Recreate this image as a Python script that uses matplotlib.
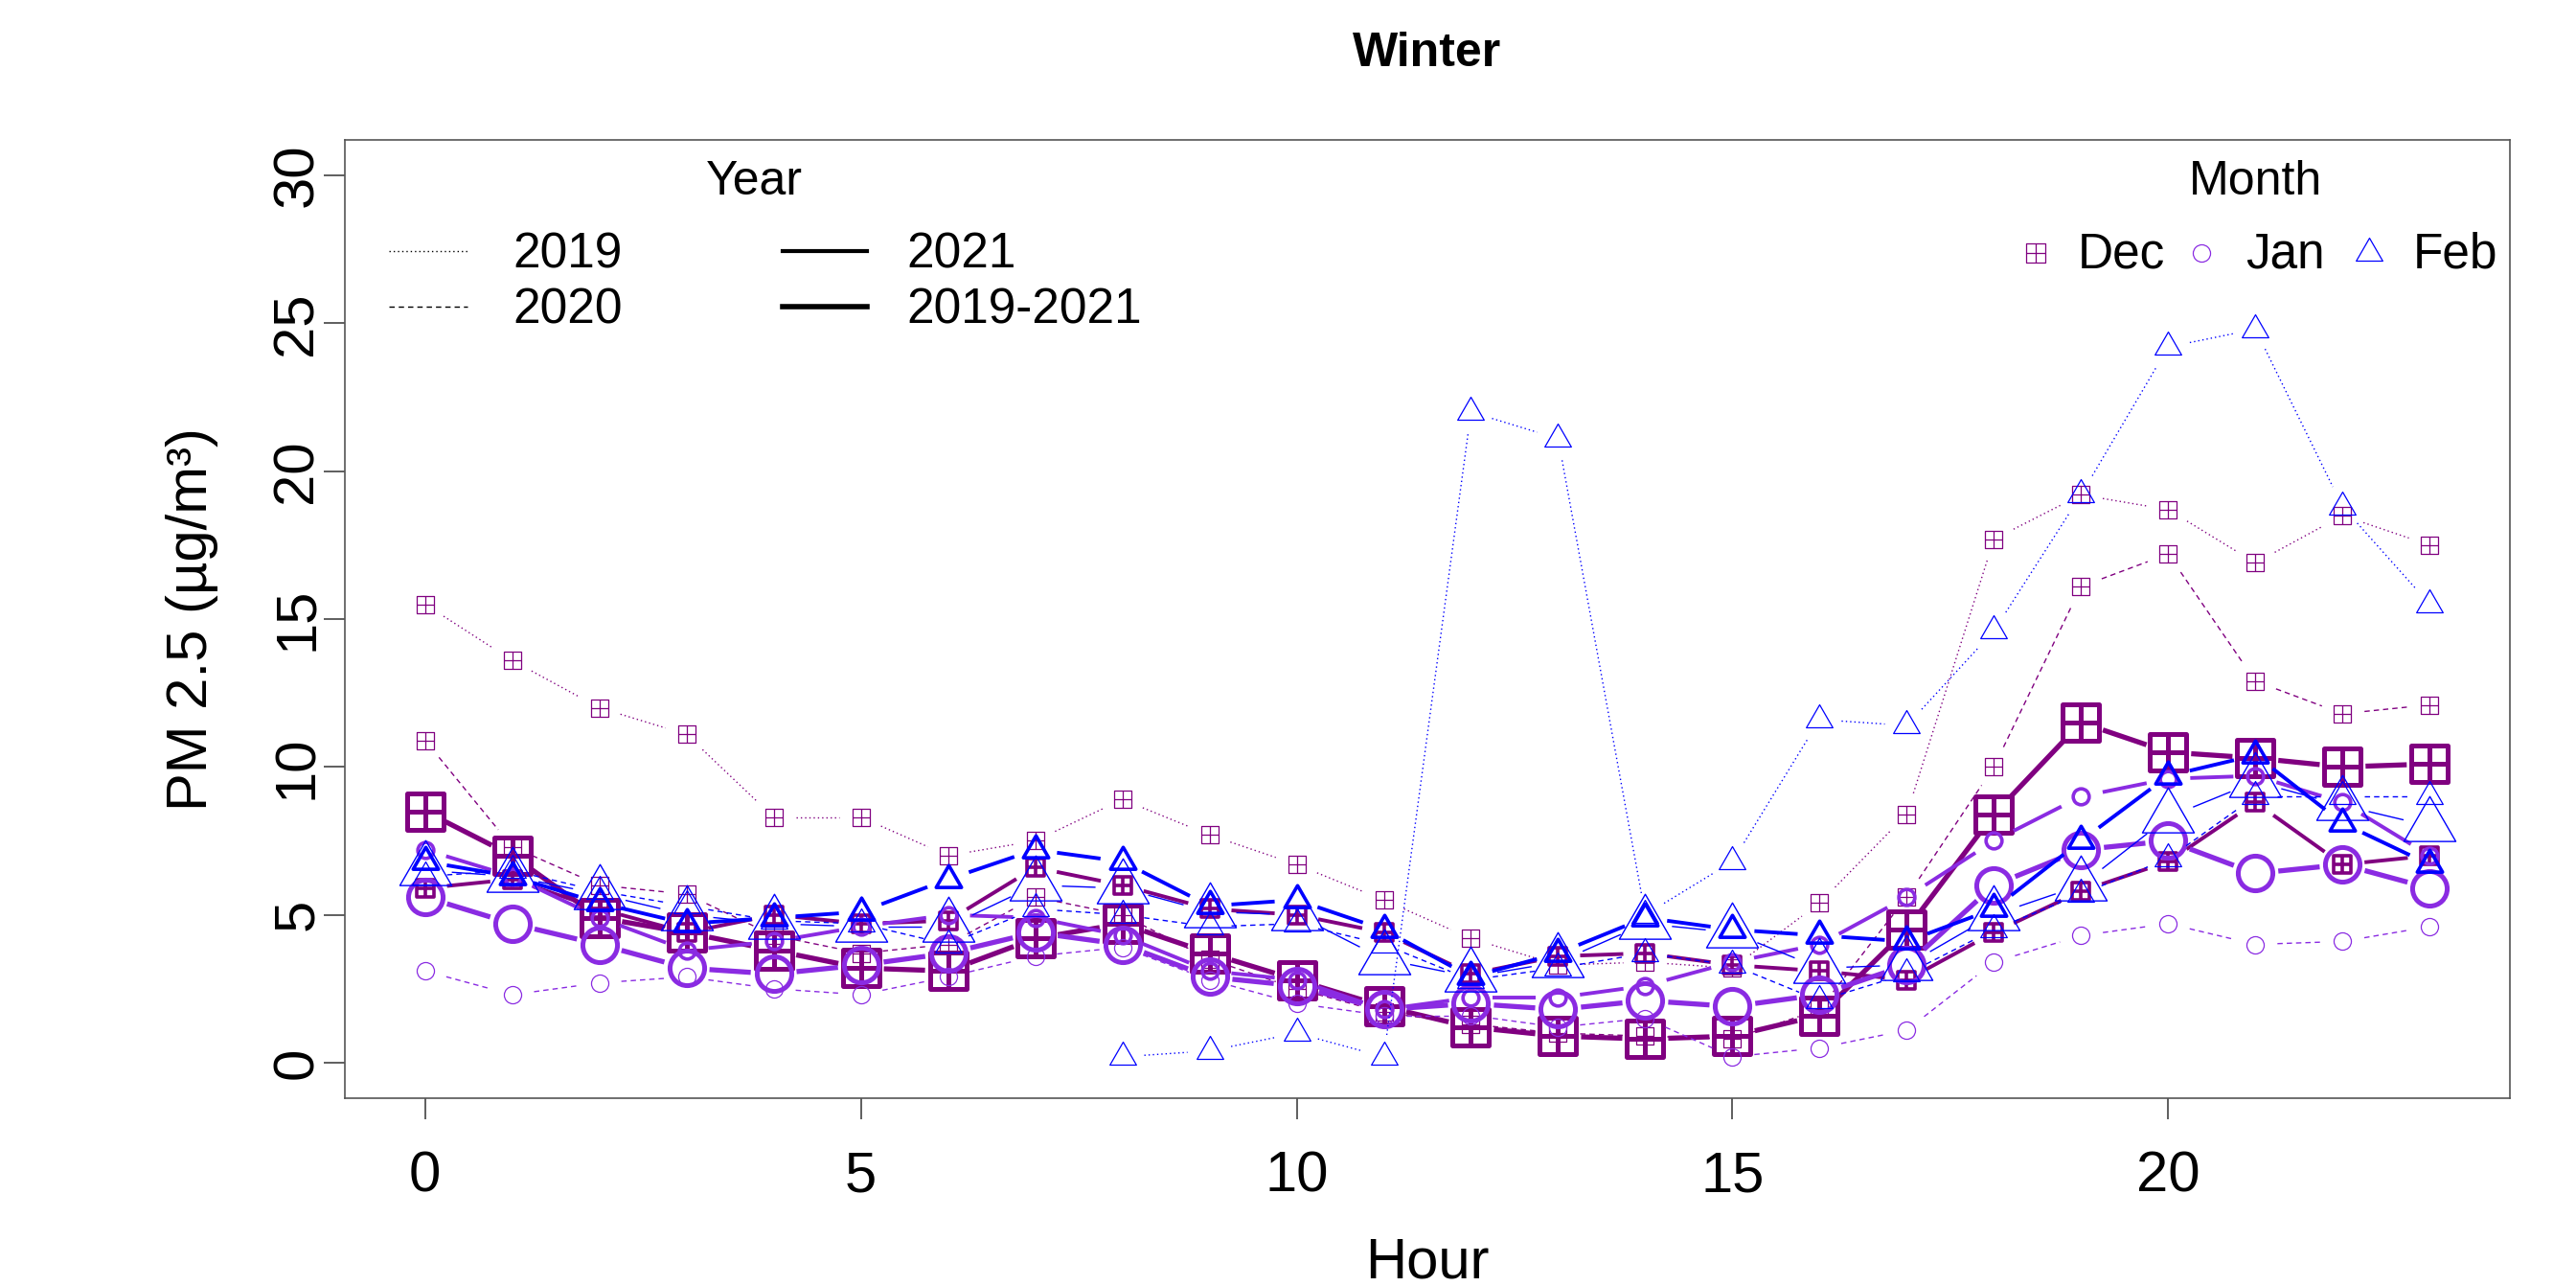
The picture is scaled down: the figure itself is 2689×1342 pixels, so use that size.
import numpy as np
import matplotlib
matplotlib.use("Agg")
import matplotlib.pyplot as plt
from matplotlib.path import Path
from matplotlib.collections import LineCollection
from matplotlib.lines import Line2D

plt.rcParams['font.family'] = ['Liberation Sans', 'DejaVu Sans']

nan = np.nan
hours = list(range(24))

# --- Dec (square with cross) ---
dec_2019 = [15.5, 13.6, 12.0, 11.1, 8.3, 8.3, 7.0, 7.5, 8.9, 7.7, 6.7, 5.5,
            4.2, 3.3, 3.4, 3.2, 5.4, 8.4, 17.7, 19.2, 18.7, 16.9, 18.5, 17.5]
dec_2020 = [10.9, 7.3, 6.0, 5.7, 4.3, 3.7, 4.0, 5.6, 5.0, 3.5, 2.5, 1.7,
            1.3, 1.0, 0.9, 0.8, 1.8, 5.6, 10.0, 16.1, 17.2, 12.9, 11.8, 12.1]
dec_2021 = [5.9, 6.2, 5.2, 4.4, 5.0, 4.7, 4.8, 6.6, 6.0, 5.2, 5.0, 4.4,
            3.0, 3.6, 3.7, 3.3, 3.1, 2.8, 4.4, 5.8, 6.8, 8.8, 6.7, 7.0]
dec_all = [8.5, 7.0, 4.9, 4.4, 3.8, 3.2, 3.1, 4.2, 4.7, 3.7, 2.8, 1.9,
           1.2, 0.9, 0.8, 0.9, 1.6, 4.5, 8.4, 11.5, 10.5, 10.3, 10.0, 10.1]

# --- Jan (circle) --- no 2019 data
jan_2020 = [3.1, 2.3, 2.7, 2.9, 2.5, 2.3, 2.9, 3.6, 3.9, 2.8, 2.0, 1.6,
            1.6, 1.2, 1.5, 0.2, 0.5, 1.1, 3.4, 4.3, 4.7, 4.0, 4.1, 4.6]
jan_2021 = [7.2, 6.3, 4.9, 3.8, 4.1, 4.6, 5.0, 4.9, 4.3, 3.1, 2.8, 1.8,
            2.2, 2.2, 2.6, 3.4, 4.0, 5.6, 7.5, 9.0, 9.6, 9.7, 8.8, 7.0]
jan_all = [5.6, 4.7, 4.0, 3.2, 3.0, 3.3, 3.7, 4.4, 4.0, 2.9, 2.6, 1.8,
           2.0, 1.8, 2.1, 1.9, 2.3, 3.3, 6.0, 7.2, 7.5, 6.4, 6.7, 5.9]

# --- Feb (triangle) ---
feb_2019 = [nan, nan, nan, nan, nan, nan, nan, nan, 0.2, 0.4, 1.0, 0.2,
            22.0, 21.1, 5.0, 6.8, 11.6, 11.4, 14.6, 19.2, 24.2, 24.8, 18.8, 15.5]
feb_2020 = [6.3, 6.5, 5.8, 5.3, 4.8, 4.7, 4.0, 5.2, 5.0, 4.6, 4.7, 4.0,
            2.8, 3.2, 3.7, 3.3, 2.1, 3.0, 4.5, 5.7, 6.9, 9.0, 9.0, 9.0]
feb_2021 = [6.8, 6.3, 5.4, 4.7, 4.9, 5.1, 6.2, 7.2, 6.8, 5.3, 5.5, 4.5,
            2.9, 3.7, 4.9, 4.5, 4.3, 4.1, 5.2, 7.5, 9.7, 10.4, 8.1, 6.7]
feb_all = [6.5, 6.3, 5.7, 5.0, 4.7, 4.6, 4.6, 6.0, 5.9, 5.1, 5.0, 3.5,
           2.9, 3.4, 4.7, 4.4, 3.2, 3.3, 5.0, 6.0, 8.3, 9.5, 8.7, 8.0]

year_labels = ["2019", "2020", "2021", "2019-2021"]
month_labels = ["Dec", "Jan", "Feb"]

# colores por mes
col_dec = "#800080"
col_jan = "#8A2BE2"
col_feb = "#0000FF"

# marcadores estilo R: cuadrado con cruz (pch 12), circulo, triangulo (pch 2)
M, L, C = Path.MOVETO, Path.LINETO, Path.CLOSEPOLY
sq_cross = Path([(-1, -1), (1, -1), (1, 1), (-1, 1), (-1, -1),
                 (0, -1), (0, 1), (-1, 0), (1, 0)],
                [M, L, L, L, C, M, L, M, L])
tri = Path([(0, 1.555), (-1.347, -0.778), (1.347, -0.778), (0, 1.555)],
           [M, L, L, C])

fig = plt.figure(figsize=(26.89, 13.42), dpi=100)
ax = fig.add_axes([360 / 2689, 196 / 1342, 2260 / 2689, 1000 / 1342])
ax.set_xlim(-0.92, 23.92)
ax.set_ylim(-1.2, 31.2)


def segmentos_con_hueco(x, y, gap_px):
    # como type="b" de R: lineas cortadas alrededor de cada punto
    pts = ax.transData.transform(np.column_stack([x, y]))
    inv = ax.transData.inverted()
    segs = []
    for i in range(len(pts) - 1):
        p0, p1 = pts[i], pts[i + 1]
        if not (np.all(np.isfinite(p0)) and np.all(np.isfinite(p1))):
            continue
        d = p1 - p0
        largo = np.hypot(d[0], d[1])
        if largo <= 2 * gap_px:
            continue
        u = d / largo
        segs.append(inv.transform([p0 + u * gap_px, p1 - u * gap_px]))
    return segs


def dibujar(vals, color, marker, ms, mew, ls, lw, gap):
    x = np.array(hours, dtype=float)
    y = np.array(vals, dtype=float)
    segs = segmentos_con_hueco(x, y, gap)
    lc = LineCollection(segs, colors=color, linewidths=lw, linestyles=[ls])
    ax.add_collection(lc)
    ax.plot(x, y, linestyle="none", marker=marker, ms=ms, mfc="none",
            mec=color, mew=mew)


dotted = (0, (1, 2.2))
dashed = (0, (4, 3))
solid = "-"

# Dec
dibujar(dec_2019, col_dec, sq_cross, 13, 0.9, dotted, 1.0, 23)
dibujar(dec_2020, col_dec, sq_cross, 13, 0.9, dashed, 1.0, 23)
dibujar(dec_2021, col_dec, sq_cross, 13, 2.6, solid, 2.8, 23)
dibujar(dec_all, col_dec, sq_cross, 28, 3.6, solid, 3.8, 24)
# Jan
dibujar(jan_2020, col_jan, "o", 13, 0.9, dashed, 1.0, 23)
dibujar(jan_2021, col_jan, "o", 12, 2.6, solid, 2.8, 23)
dibujar(jan_all, col_jan, "o", 26, 3.6, solid, 3.8, 24)
# Feb
dibujar(feb_2019, col_feb, tri, 23, 0.9, dotted, 1.0, 23)
dibujar(feb_2020, col_feb, tri, 23, 0.9, dashed, 1.0, 23)
dibujar(feb_2021, col_feb, tri, 22, 2.6, solid, 2.8, 23)
dibujar(feb_all, col_feb, tri, 45, 1.0, solid, 1.0, 28)

# ejes
ax.set_xticks([0, 5, 10, 15, 20])
ax.set_yticks([0, 5, 10, 15, 20, 25, 30])
ax.tick_params(direction="out", length=16, width=1.1, color="#333333",
               labelsize=43)
ax.tick_params(axis="x", pad=23)
ax.tick_params(axis="y", pad=0, labelrotation=90)
for t in ax.get_yticklabels():
    t.set_va("center")
for s in ax.spines.values():
    s.set_color("#555555")
    s.set_linewidth(1.2)

fig.text(1490 / 2689, 1 - 1333 / 1342, "Hour", ha="center", va="baseline",
         fontsize=43)
fig.text(200 / 2689, 1 - 646 / 1342, "PM 2.5 (µg/m³)", ha="center",
         va="center", rotation=90, fontsize=43)
fig.text(1490 / 2689, 1 - 69 / 1342, "Winter", ha="center", va="baseline",
         fontsize=36, fontweight="bold")

# leyenda Year
tr = ax.transAxes
ax.text(0.189, 0.943, "Year", transform=tr, ha="center", va="baseline",
        fontsize=36)
leg_x = [(0.0204, 0.0566, 0.0774), (0.0204, 0.0566, 0.0774),
         (0.2022, 0.2412, 0.2593), (0.2022, 0.2412, 0.2593)]
leg_y = [(0.8845, 0.866), (0.826, 0.808), (0.8845, 0.866), (0.826, 0.808)]
leg_ls = [dotted, dashed, solid, solid]
leg_lw = [1.0, 1.0, 3.0, 4.0]
for lab, (x0, x1, xt), (yl, yt), ls, lw in zip(year_labels, leg_x, leg_y,
                                               leg_ls, leg_lw):
    ax.add_line(Line2D([x0, x1], [yl, yl], transform=tr, color="black",
                       linestyle=ls, linewidth=lw))
    ax.text(xt, yt, lab, transform=tr, ha="left", va="baseline", fontsize=37)

# leyenda Month
ax.text(0.8827, 0.943, "Month", transform=tr, ha="center", va="baseline",
        fontsize=36)
mk_x = [(0.781, 0.8004), (0.8575, 0.8779), (0.935, 0.9553)]
mk = [(sq_cross, 15, col_dec), ("o", 13, col_jan), (tri, 23, col_feb)]
for lab, (xm, xt), (m, s, c) in zip(month_labels, mk_x, mk):
    ax.plot([xm], [0.882], transform=tr, marker=m, ms=s, mfc="none", mec=c,
            mew=0.9, linestyle="none", clip_on=False)
    ax.text(xt, 0.866, lab, transform=tr, ha="left", va="baseline",
            fontsize=37)

fig.savefig("out.png", dpi=100)
